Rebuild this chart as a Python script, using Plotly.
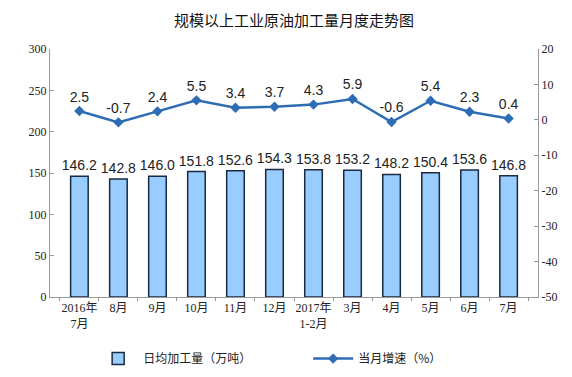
import plotly.graph_objects as go

categories = ["2016年<br>7月", "8月", "9月", "10月", "11月", "12月", "2017年<br>1-2月", "3月", "4月", "5月", "6月", "7月"]
daily_output = [146.2, 142.8, 146.0, 151.8, 152.6, 154.3, 153.8, 153.2, 148.2, 150.4, 153.6, 146.8]
growth = [2.5, -0.7, 2.4, 5.5, 3.4, 3.7, 4.3, 5.9, -0.6, 5.4, 2.3, 0.4]
left_ticks = [0, 50, 100, 150, 200, 250, 300]
right_ticks = [-50, -40, -30, -20, -10, 0, 10, 20]
right_tick_labels = ["-50", "-40", "-30", "-20", "-10", "0", "10", "20"]

fig = go.Figure()
fig.add_trace(go.Bar(
    x=categories, y=daily_output, name="日均加工量（万吨）",
    marker=dict(color="#99CCFF", line=dict(color="#1a2a40", width=1.5)),
    text=[f"{v:.1f}" for v in daily_output], textposition="outside",
    constraintext="none",
    textfont=dict(family="Liberation Sans", size=14, color="#222"),
    cliponaxis=False,
))
fig.add_trace(go.Scatter(
    x=categories, y=growth, name="当月增速（%）", yaxis="y2",
    mode="lines+markers+text",
    line=dict(color="#2E6DB4", width=2.5),
    marker=dict(symbol="diamond", size=8, color="#2E6DB4"),
    text=[f"{v:.1f}" for v in growth], textposition="top center",
    textfont=dict(family="Liberation Sans", size=14, color="#222"),
    cliponaxis=False,
))

fig.update_layout(
    width=572, height=377,
    margin=dict(l=42, r=42, t=41, b=80),
    paper_bgcolor="white", plot_bgcolor="white",
    title=dict(text="规模以上工业原油加工量月度走势图", x=0.5, xanchor="center",
               yref="container", y=0.965, yanchor="middle",
               font=dict(family="Noto Sans CJK SC", size=15, color="#111")),
    bargap=0.55,
    showlegend=True,
    legend=dict(orientation="h", x=0.529, xanchor="center", y=-0.19, yanchor="top",
                font=dict(family="Noto Sans CJK SC", size=12, color="#222"),
                itemwidth=40, tracegroupgap=0, entrywidth=160),
    xaxis=dict(showline=True, linecolor="#999", ticks="outside", ticklen=3, tickcolor="#999",
               tickson="boundaries", tickangle=0, automargin=False,
               tickfont=dict(family="Liberation Serif, Noto Sans CJK SC", size=12, color="#222")),
    yaxis=dict(range=[0, 300], tickvals=left_ticks, showline=True, linecolor="#999",
               ticks="inside", ticklen=4, tickcolor="#999", showgrid=False, zeroline=False,
               tickfont=dict(family="Liberation Serif", size=12, color="#222")),
    yaxis2=dict(range=[-50, 20], tickvals=right_ticks, ticktext=right_tick_labels,
                overlaying="y", side="right",
                showline=True, linecolor="#999", ticks="inside", ticklen=4, tickcolor="#999",
                showgrid=False, zeroline=False,
                tickfont=dict(family="Liberation Serif", size=12, color="#222")),
)

fig.write_html("out.html")
